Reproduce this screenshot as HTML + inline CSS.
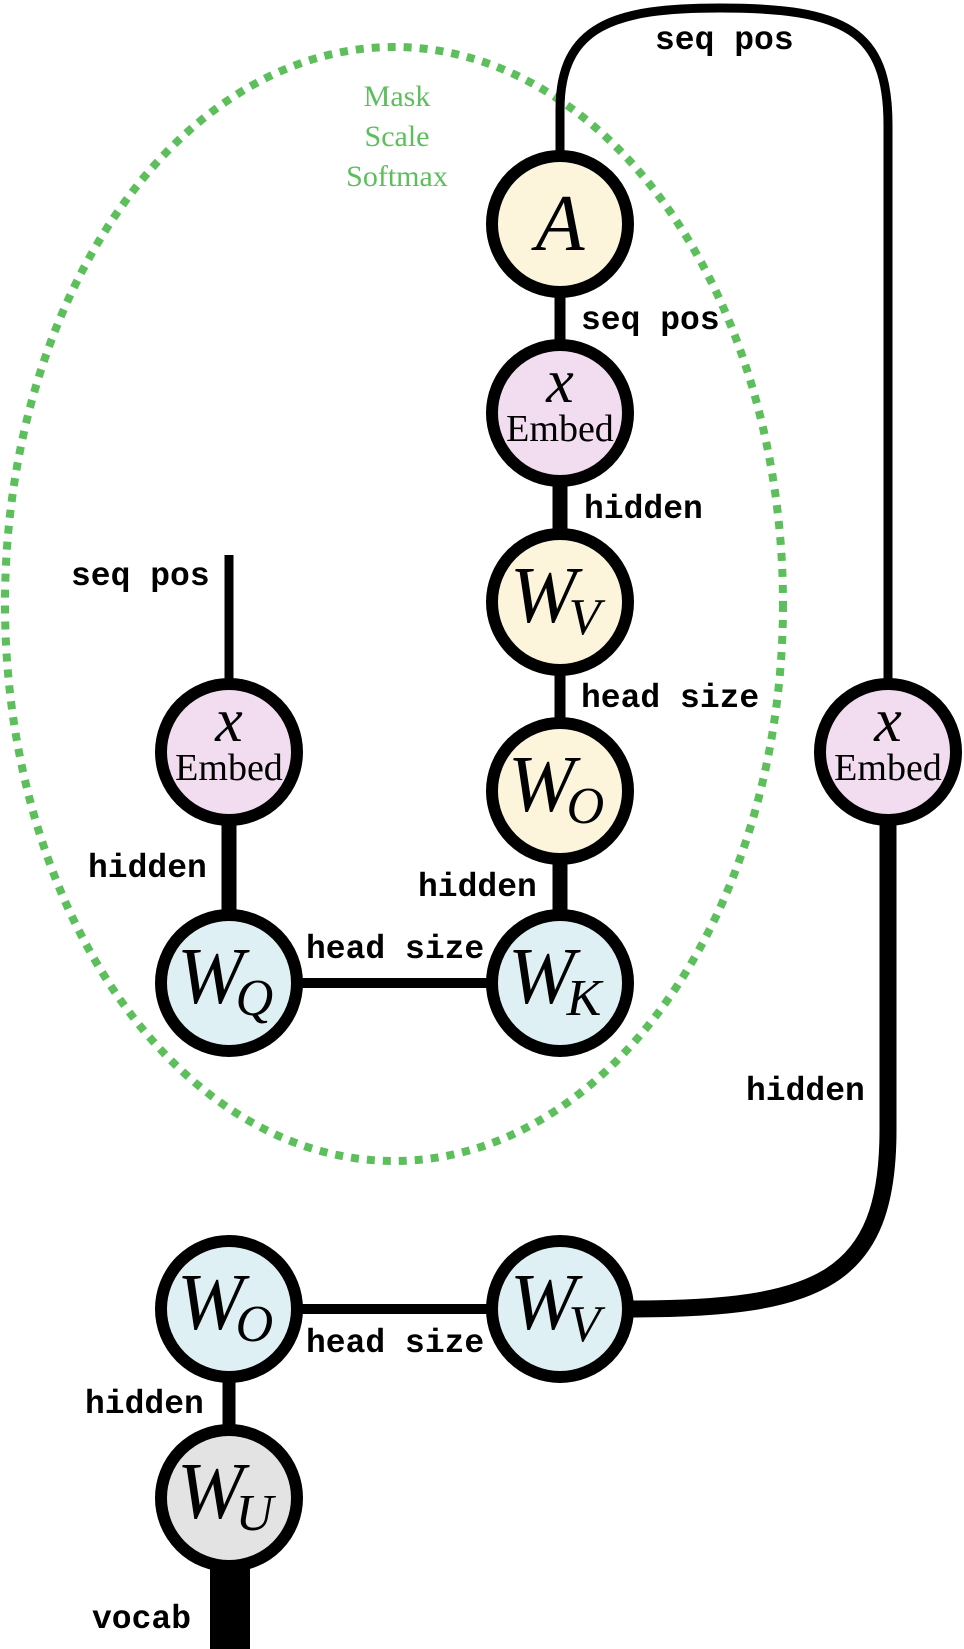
<!DOCTYPE html>
<html><head><meta charset="utf-8"><style>
html,body{margin:0;padding:0;background:#fff}
svg{display:block}
.m{font-family:"Liberation Mono",monospace;font-weight:bold;font-size:33px;fill:#000}
.g{font-family:"Liberation Serif",serif;font-size:30px;fill:#5cbf5c}
.w{font-family:"Liberation Serif",serif;font-style:italic;font-size:80px;fill:#000}
.s{font-size:52px}
.e{font-family:"Liberation Serif",serif;font-size:38px;fill:#000}
.x{font-family:"Liberation Serif",serif;font-style:italic;font-size:62px;fill:#000}
</style></head><body>
<svg width="964" height="1649" viewBox="0 0 964 1649" xmlns="http://www.w3.org/2000/svg">
<ellipse cx="394" cy="604" rx="389" ry="557" fill="none" stroke="#5cbf5c" stroke-width="8" stroke-dasharray="8 8"/>
<g fill="none" stroke="#000">
<path d="M560,160 L560,110 C560,25 615,8 720,8 C845,8 888,30 888,125 L888,690" stroke-width="9"/>
<line x1="560" y1="290" x2="560" y2="345" stroke-width="11"/>
<line x1="560" y1="480" x2="560" y2="535" stroke-width="15"/>
<line x1="560" y1="665" x2="560" y2="725" stroke-width="11"/>
<line x1="560" y1="855" x2="560" y2="915" stroke-width="15"/>
<line x1="229" y1="555" x2="229" y2="690" stroke-width="9"/>
<line x1="229" y1="815" x2="229" y2="915" stroke-width="15"/>
<line x1="290" y1="983" x2="500" y2="983" stroke-width="10"/>
<path d="M888,800 L888,1130 C888,1280 820,1309 630,1309" stroke-width="17"/>
<line x1="290" y1="1309" x2="500" y2="1309" stroke-width="10"/>
<line x1="229" y1="1370" x2="229" y2="1435" stroke-width="13"/>
<line x1="230" y1="1560" x2="230" y2="1649" stroke-width="40"/>
</g>
<g stroke="#000" stroke-width="12">
<circle cx="560" cy="224" r="68" fill="#fcf5dc"/>
<circle cx="560" cy="413" r="68" fill="#f2dcef"/>
<circle cx="560" cy="602" r="68" fill="#fcf5dc"/>
<circle cx="560" cy="791" r="68" fill="#fcf5dc"/>
<circle cx="560" cy="983" r="68" fill="#dff0f4"/>
<circle cx="229" cy="983" r="68" fill="#dff0f4"/>
<circle cx="229" cy="752" r="68" fill="#f2dcef"/>
<circle cx="888" cy="752" r="68" fill="#f2dcef"/>
<circle cx="229" cy="1309" r="68" fill="#dff0f4"/>
<circle cx="560" cy="1309" r="68" fill="#dff0f4"/>
<circle cx="229" cy="1498" r="68" fill="#e3e3e3"/>
</g>
<text class="w" x="560" y="250" text-anchor="middle" font-size="84">A</text>
<text class="x" x="560" y="402" text-anchor="middle">x</text>
<text class="e" x="560" y="441" text-anchor="middle">Embed</text>
<text class="x" x="229" y="741" text-anchor="middle">x</text>
<text class="e" x="229" y="780" text-anchor="middle">Embed</text>
<text class="x" x="888" y="741" text-anchor="middle">x</text>
<text class="e" x="888" y="780" text-anchor="middle">Embed</text>
<text class="w" x="510" y="622">W<tspan class="s" dx="-8" dy="12">V</tspan></text>
<text class="w" x="508" y="811">W<tspan class="s" dx="-8" dy="12">O</tspan></text>
<text class="w" x="508" y="1003">W<tspan class="s" dx="-8" dy="12">K</tspan></text>
<text class="w" x="177" y="1003">W<tspan class="s" dx="-8" dy="12">Q</tspan></text>
<text class="w" x="177" y="1329">W<tspan class="s" dx="-8" dy="12">O</tspan></text>
<text class="w" x="510" y="1329">W<tspan class="s" dx="-8" dy="12">V</tspan></text>
<text class="w" x="177" y="1518">W<tspan class="s" dx="-8" dy="12">U</tspan></text>
<text class="g" x="397" y="106" text-anchor="middle">Mask</text>
<text class="g" x="397" y="146" text-anchor="middle">Scale</text>
<text class="g" x="397" y="186" text-anchor="middle">Softmax</text>
<text class="m" x="655" y="49">seq pos</text>
<text class="m" x="581" y="329">seq pos</text>
<text class="m" x="584" y="518">hidden</text>
<text class="m" x="581" y="707">head size</text>
<text class="m" x="71" y="585">seq pos</text>
<text class="m" x="88" y="877">hidden</text>
<text class="m" x="418" y="896">hidden</text>
<text class="m" x="306" y="958">head size</text>
<text class="m" x="746" y="1100">hidden</text>
<text class="m" x="306" y="1352">head size</text>
<text class="m" x="85" y="1413">hidden</text>
<text class="m" x="92" y="1628">vocab</text>
</svg>
</body></html>
